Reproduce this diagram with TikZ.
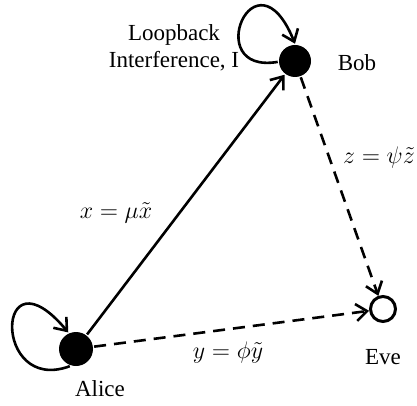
\documentclass[tikz,border=0pt]{standalone}
\usepackage{fontspec}
\setmainfont{Liberation Serif}
\usetikzlibrary{arrows.meta}
\begin{document}
\begin{tikzpicture}[x=0.5pt,y=-0.5pt,line width=1.3pt,>={Straight Barb[length=5.5pt,width=8.5pt]},every node/.style={font=\fontsize{11.5}{13.5}\selectfont}]
  \useasboundingbox (0,0) rectangle (417,406);
  \node[circle,fill,minimum size=16pt,inner sep=0pt] (bob) at (295,61) {};
  \node[circle,fill,minimum size=17pt,inner sep=0pt] (alice) at (76,349) {};
  \node[circle,draw,line width=1.5pt,minimum size=12.5pt,inner sep=0pt] (eve) at (383,309) {};
  \node (bobl) at (357,63) {Bob};
  \node (alicel) at (100,389) {Alice};
  \node (evel) at (383,357) {Eve};
  \node[align=center] (loop) at (174,48) {Loopback\\Interference, I};
  \node (xlab) at (116,213) {$x=\mu\tilde{x}$};
  \node (ylab) at (228,352) {$y=\phi\tilde{y}$};
  \node (zlab) at (379,158) {$z=\psi\tilde{z}$};
  \draw[->] (alice) -- (bob);
  \draw[->,dash pattern=on 6pt off 4pt] (bob) -- (eve);
  \draw[->,dash pattern=on 6pt off 4pt] (alice) -- (eve);
  \draw[->] (bob.183) .. controls (200,75) and (255,-55) .. (bob.north);
  \draw[->] (alice.250) .. controls (-8,395) and (-5,245) .. (alice.115);
\end{tikzpicture}
\end{document}
